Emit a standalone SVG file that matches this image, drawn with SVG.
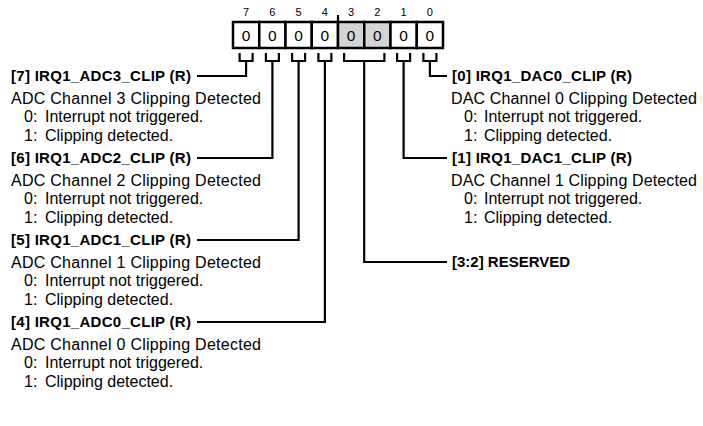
<svg xmlns="http://www.w3.org/2000/svg" width="703" height="426" viewBox="0 0 703 426">
<style>
.cell{fill:#fff;stroke:#000;stroke-width:2.5}
.res{fill:#d4d4d4}
.bitn{font-family:"Liberation Sans",Arial,sans-serif;font-size:11px;fill:#000;text-anchor:middle}
.val{font-family:"Liberation Sans",Arial,sans-serif;font-size:15.5px;fill:#000;text-anchor:middle}
.ttl{font-family:"Liberation Sans",Arial,sans-serif;font-size:15px;font-weight:bold;fill:#000}
.txt{font-family:"Liberation Sans",Arial,sans-serif;font-size:16px;fill:#000}
.ln{fill:none;stroke:#000;stroke-width:2.2}
</style>
<rect width="703" height="426" fill="#fff"/>
<g id="register">
<g class="bitn">
<text x="246.1" y="16">7</text><text x="272.4" y="16">6</text><text x="298.6" y="16">5</text><text x="324.9" y="16">4</text>
<text x="351.1" y="16">3</text><text x="377.4" y="16">2</text><text x="403.6" y="16">1</text><text x="429.9" y="16">0</text>
</g>
<line class="ln" x1="338" y1="15" x2="338" y2="22"/>
<rect class="cell" x="233" y="22" width="26.25" height="26"/>
<rect class="cell" x="259.25" y="22" width="26.25" height="26"/>
<rect class="cell" x="285.5" y="22" width="26.25" height="26"/>
<rect class="cell" x="311.75" y="22" width="26.25" height="26"/>
<rect class="cell res" x="338" y="22" width="26.25" height="26"/>
<rect class="cell res" x="364.25" y="22" width="26.25" height="26"/>
<rect class="cell" x="390.5" y="22" width="26.25" height="26"/>
<rect class="cell" x="416.75" y="22" width="26.25" height="26"/>
<g class="val">
<text x="246.1" y="40.5">0</text><text x="272.4" y="40.5">0</text><text x="298.6" y="40.5">0</text><text x="324.9" y="40.5">0</text>
<text x="351.1" y="40.5">0</text><text x="377.4" y="40.5">0</text><text x="403.6" y="40.5">0</text><text x="429.9" y="40.5">0</text>
</g>
</g>
<g id="connectors">
<path class="ln" d="M239.6,53V61H252.6V53M246.1,61V76H197"/>
<path class="ln" d="M265.9,53V61H278.9V53M272.4,61V158H197"/>
<path class="ln" d="M292.1,53V61H305.1V53M298.6,61V240H197"/>
<path class="ln" d="M318.4,53V61H331.4V53M324.9,61V322H197"/>
<path class="ln" d="M344.1,53V61H384.4V53M364.2,61V262H447"/>
<path class="ln" d="M397.1,53V61H410.1V53M403.6,61V158H447"/>
<path class="ln" d="M423.4,53V61H436.4V53M429.9,61V76H447"/>
</g>
<g id="f7">
<text class="ttl" x="11" y="81" textLength="180">[7] IRQ1_ADC3_CLIP (R)</text>
<text class="txt" x="11" y="104" textLength="250">ADC Channel 3 Clipping Detected</text>
<text class="txt" x="24" y="122">0:</text><text class="txt" x="45" y="122">Interrupt not triggered.</text>
<text class="txt" x="24" y="141">1:</text><text class="txt" x="45" y="141">Clipping detected.</text>
</g>
<g id="f6">
<text class="ttl" x="11" y="163" textLength="180">[6] IRQ1_ADC2_CLIP (R)</text>
<text class="txt" x="11" y="186" textLength="250">ADC Channel 2 Clipping Detected</text>
<text class="txt" x="24" y="204">0:</text><text class="txt" x="45" y="204">Interrupt not triggered.</text>
<text class="txt" x="24" y="223">1:</text><text class="txt" x="45" y="223">Clipping detected.</text>
</g>
<g id="f5">
<text class="ttl" x="11" y="245" textLength="180">[5] IRQ1_ADC1_CLIP (R)</text>
<text class="txt" x="11" y="268" textLength="250">ADC Channel 1 Clipping Detected</text>
<text class="txt" x="24" y="286">0:</text><text class="txt" x="45" y="286">Interrupt not triggered.</text>
<text class="txt" x="24" y="305">1:</text><text class="txt" x="45" y="305">Clipping detected.</text>
</g>
<g id="f4">
<text class="ttl" x="11" y="327" textLength="180">[4] IRQ1_ADC0_CLIP (R)</text>
<text class="txt" x="11" y="350" textLength="250">ADC Channel 0 Clipping Detected</text>
<text class="txt" x="24" y="368">0:</text><text class="txt" x="45" y="368">Interrupt not triggered.</text>
<text class="txt" x="24" y="387">1:</text><text class="txt" x="45" y="387">Clipping detected.</text>
</g>
<g id="f0">
<text class="ttl" x="452" y="81" textLength="180">[0] IRQ1_DAC0_CLIP (R)</text>
<text class="txt" x="451" y="104" textLength="246">DAC Channel 0 Clipping Detected</text>
<text class="txt" x="464" y="122">0:</text><text class="txt" x="484" y="122">Interrupt not triggered.</text>
<text class="txt" x="464" y="141">1:</text><text class="txt" x="484" y="141">Clipping detected.</text>
</g>
<g id="f1">
<text class="ttl" x="452" y="163" textLength="180">[1] IRQ1_DAC1_CLIP (R)</text>
<text class="txt" x="451" y="186" textLength="246">DAC Channel 1 Clipping Detected</text>
<text class="txt" x="464" y="204">0:</text><text class="txt" x="484" y="204">Interrupt not triggered.</text>
<text class="txt" x="464" y="223">1:</text><text class="txt" x="484" y="223">Clipping detected.</text>
</g>
<g id="f32">
<text class="ttl" x="452" y="267">[3:2] RESERVED</text>
</g>
</svg>
